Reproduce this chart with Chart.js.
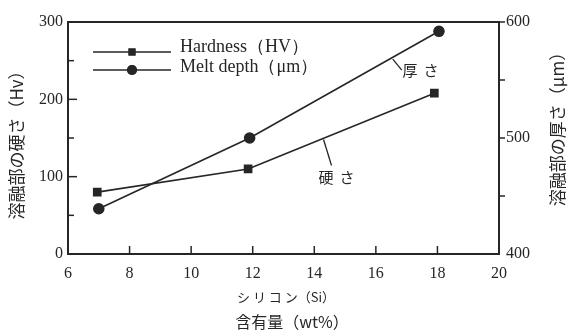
<!DOCTYPE html>
<html>
<head>
<meta charset="utf-8">
<script src="https://cdn.jsdelivr.net/npm/chart.js@4.4.1/dist/chart.umd.min.js"></script>
<style>
  body { margin: 0; background: #fff; }
</style>
</head>
<body>
<canvas id="myChart" width="569" height="336"></canvas>
<script>
// Si content (wt%) and measured values
const siHardness = [6.95, 11.85, 17.9];
const hardness = [80, 110, 208];          // Hv, left axis
const siDepth = [7.0, 11.9, 18.05];
const meltDepth = [439, 500, 592];        // um, right axis

const xTickValues = [6, 8, 10, 12, 14, 16, 18, 20];
const hvTickValues = [0, 100, 200, 300];
const depthTickValues = [400, 500, 600];

const ink = '#262626';
const serif = '"Liberation Serif", "DejaVu Serif", serif';
const jp = '"Noto Sans CJK JP", sans-serif';

// draws the box, inward ticks, legend, notes and titles
const paperPlugin = {
    id: 'paper',
    afterDraw(chart) {
        const ctx = chart.ctx;
        const a = chart.chartArea;
        const x = chart.scales.x, y = chart.scales.y, y1 = chart.scales.y1;
        ctx.save();
        ctx.strokeStyle = ink;
        ctx.fillStyle = ink;

        // frame
        ctx.lineWidth = 2;
        ctx.strokeRect(a.left, a.top, a.right - a.left, a.bottom - a.top);

        // x ticks (inward)
        ctx.lineWidth = 1.5;
        xTickValues.slice(1, -1).forEach(v => {
            const px = x.getPixelForValue(v);
            ctx.beginPath(); ctx.moveTo(px, a.bottom); ctx.lineTo(px, a.bottom - 8); ctx.stroke();
        });
        // left ticks (inward)
        [50, 100, 150, 200, 250].forEach(v => {
            const py = y.getPixelForValue(v);
            ctx.beginPath(); ctx.moveTo(a.left, py); ctx.lineTo(a.left + (v % 100 ? 6 : 9), py); ctx.stroke();
        });
        // right ticks (outward)
        [450, 500, 550, 600].forEach(v => {
            const py = y1.getPixelForValue(v);
            ctx.beginPath(); ctx.moveTo(a.right, py); ctx.lineTo(a.right + 6, py); ctx.stroke();
        });

        // legend
        const sets = chart.data.datasets;
        const legendRows = [
            { ds: sets[0], ly: 52, ty: 47, text: 'Hardness（HV）' },
            { ds: sets[1], ly: 70, ty: 67, text: 'Melt depth（μm）' }
        ];
        legendRows.forEach(r => {
            ctx.lineWidth = 1.5;
            ctx.beginPath(); ctx.moveTo(93, r.ly); ctx.lineTo(171, r.ly); ctx.stroke();
            Chart.helpers.drawPoint(ctx, {
                pointStyle: r.ds.pointStyle, radius: r.ds.pointRadius, borderWidth: 0
            }, 132, r.ly);
            ctx.fill();
            ctx.font = '18px ' + serif;
            ctx.textAlign = 'left';
            ctx.textBaseline = 'middle';
            ctx.fillText(r.text, 180, r.ty);
        });

        // curve notes with leader lines
        const notes = [
            { sx: 16.55, sy: 568, scale: y1, dx: 9, dy: 11, chars: ['厚', 'さ'], tx: 410, ty: 70 },
            { sx: 14.3, sy: 148, scale: y, dx: 8, dy: 26, chars: ['硬', 'さ'], tx: 326, ty: 177 }
        ];
        notes.forEach(n => {
            const px = x.getPixelForValue(n.sx), py = n.scale.getPixelForValue(n.sy);
            ctx.lineWidth = 1.3;
            ctx.beginPath(); ctx.moveTo(px, py); ctx.lineTo(px + n.dx, py + n.dy); ctx.stroke();
            ctx.font = '15px ' + jp;
            ctx.textAlign = 'center';
            ctx.textBaseline = 'middle';
            ctx.fillText(n.chars[0], n.tx, n.ty);
            ctx.fillText(n.chars[1], n.tx + 21, n.ty);
        });

        // axis titles
        ctx.textAlign = 'center';
        ctx.textBaseline = 'middle';
        ctx.save();
        ctx.translate(17, 141);
        ctx.rotate(-Math.PI / 2);
        ctx.font = '17px ' + jp;
        ctx.fillText('溶融部の硬さ（Hv）', 0, 0);
        ctx.restore();

        ctx.save();
        ctx.translate(558, 125);
        ctx.rotate(-Math.PI / 2);
        ctx.font = '17px ' + jp;
        ctx.fillText('溶融部の厚さ（μm）', 0, 0);
        ctx.restore();

        ctx.font = '13px ' + jp;
        ctx.fillText('シ リ コ ン（Si）', 286, 297);
        ctx.font = '16px ' + jp;
        ctx.fillText('含有量（wt%）', 292, 322);

        ctx.restore();
    }
};

document.addEventListener('DOMContentLoaded', () => {
    const ctx = document.getElementById('myChart').getContext('2d');

    const data = {
        datasets: [{
            label: 'Hardness (HV)',
            data: siHardness.map((s, i) => ({ x: s, y: hardness[i] })),
            yAxisID: 'y',
            borderColor: ink,
            backgroundColor: ink,
            borderWidth: 1.6,
            pointStyle: 'rect',
            pointRadius: 5,
            fill: false
        }, {
            label: 'Melt depth (um)',
            data: siDepth.map((s, i) => ({ x: s, y: meltDepth[i] })),
            yAxisID: 'y1',
            borderColor: ink,
            backgroundColor: ink,
            borderWidth: 1.6,
            pointStyle: 'circle',
            pointRadius: 5,
            fill: false
        }]
    };

    const tickFont = { family: serif, size: 16 };

    new Chart(ctx, {
        type: 'line',
        data: data,
        options: {
            responsive: false,
            animation: false,
            layout: { padding: { top: 22, left: 0, right: 0, bottom: 0 } },
            plugins: { legend: { display: false }, tooltip: { enabled: false } },
            scales: {
                x: {
                    type: 'linear',
                    min: 6, max: 20,
                    afterBuildTicks: s => { s.ticks = xTickValues.map(v => ({ value: v })); },
                    ticks: { font: tickFont, color: ink, padding: 10, maxRotation: 0 },
                    grid: { display: false, drawTicks: false },
                    border: { display: false },
                    afterFit: s => { s.height = 82; }
                },
                y: {
                    position: 'left',
                    min: 0, max: 300,
                    afterBuildTicks: s => { s.ticks = hvTickValues.map(v => ({ value: v })); },
                    ticks: { font: tickFont, color: ink, padding: 5 },
                    grid: { display: false, drawTicks: false },
                    border: { display: false },
                    afterFit: s => { s.width = 68; }
                },
                y1: {
                    position: 'right',
                    min: 400, max: 600,
                    afterBuildTicks: s => { s.ticks = depthTickValues.map(v => ({ value: v })); },
                    ticks: { font: tickFont, color: ink, padding: 7 },
                    grid: { display: false, drawTicks: false },
                    border: { display: false },
                    afterFit: s => { s.width = 70; }
                }
            }
        },
        plugins: [paperPlugin]
    });
});
</script>
</body>
</html>
